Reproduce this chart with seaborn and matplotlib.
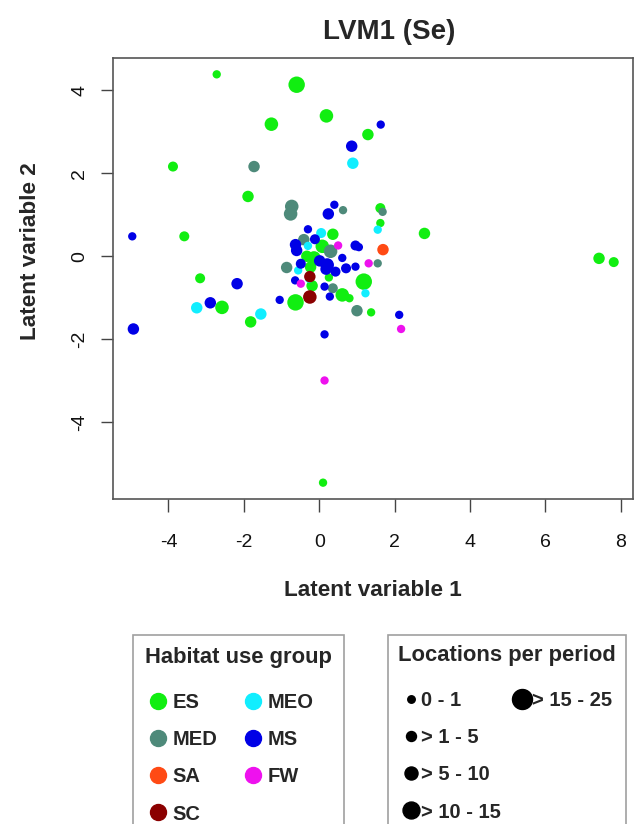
import numpy as np
import pandas as pd
import matplotlib
matplotlib.use("Agg")
import matplotlib.pyplot as plt
from matplotlib.lines import Line2D
import seaborn as sns

# =====================================================
# DATA
# =====================================================

lv1 = [
    # ES
    -2.72, -0.60, 0.19, -1.27, 1.29, -3.88, -1.89, 1.62, 1.62, 0.36,
    2.79, -3.58, 0.08, -0.14, -0.33, -0.23, 7.42, 7.81, -3.16, 0.255,
    1.18, -0.19, 0.61, 0.80, -0.63, -2.58, 1.375, -1.82, 0.10,
    # MED
    -1.73, -0.73, -0.76, 0.63, 1.68, -0.41, 0.30, -0.865, 1.55, 0.36, 1.00,
    # MEO
    0.89, 1.55, 0.05, -0.30, -0.56, -0.27, 1.225, -3.25, -1.55,
    # MS
    1.63, 0.86, 0.40, 0.24, -0.30, -0.115, -0.63, -0.60, 0.96, 1.05,
    0.61, 0.01, 0.21, -0.49, 0.43, 0.71, 0.96, 0.18, -0.64, 0.14,
    0.28, -1.05, 2.12, 0.14, -4.96, -2.18, -2.89, -4.93,
    # SA
    1.69,
    # FW
    0.50, 1.31, -0.49, 2.17, 0.14,
    # SC
    -0.25, -0.25,
]

lv2 = [
    # ES
    4.38, 4.13, 3.38, 3.18, 2.93, 2.16, 1.44, 1.16, 0.80, 0.53,
    0.55, 0.48, 0.24, -0.04, 0.00, -0.26, -0.05, -0.14, -0.53, -0.51,
    -0.61, -0.71, -0.93, -1.01, -1.11, -1.23, -1.35, -1.58, -5.45,
    # MED
    2.16, 1.20, 1.02, 1.11, 1.07, 0.40, 0.12, -0.27, -0.17, -0.77, -1.31,
    # MEO
    2.24, 0.64, 0.56, 0.25, -0.34, -0.54, -0.89, -1.24, -1.39,
    # MS
    3.17, 2.65, 1.24, 1.02, 0.65, 0.41, 0.28, 0.14, 0.26, 0.22,
    -0.04, -0.11, -0.21, -0.18, -0.37, -0.29, -0.25, -0.31, -0.58, -0.73,
    -0.97, -1.05, -1.41, -1.88, 0.48, -0.66, -1.12, -1.75,
    # SA
    0.16,
    # FW
    0.26, -0.17, -0.66, -1.75, -2.99,
    # SC
    -0.49, -0.98,
]

group = (["ES"] * 29 + ["MED"] * 11 + ["MEO"] * 9 + ["MS"] * 28
         + ["SA"] * 1 + ["FW"] * 5 + ["SC"] * 2)

# locations per period class: 1 = "0 - 1" ... 5 = "> 15 - 25"
loc_class = [
    # ES
    1, 5, 4, 4, 3, 2, 3, 2, 1, 3,
    3, 2, 4, 4, 3, 3, 3, 2, 2, 1,
    5, 3, 4, 1, 5, 4, 1, 3, 1,
    # MED
    3, 4, 4, 1, 1, 3, 4, 3, 1, 2, 3,
    # MEO
    3, 1, 2, 1, 1, 1, 1, 3, 3,
    # MS
    1, 3, 1, 3, 1, 2, 3, 3, 2, 1,
    1, 3, 4, 2, 2, 2, 1, 3, 1, 1,
    1, 1, 1, 1, 1, 3, 3, 3,
    # SA
    3,
    # FW
    1, 1, 1, 1, 1,
    # SC
    3, 4,
]

groups = ["ES", "MED", "SA", "SC", "MEO", "MS", "FW"]
group_colors = ["#11EE11", "#4E8A7A", "#FF4A14", "#8B0000",
                "#11EEFF", "#0000E6", "#EE11EE"]
class_labels = ["0 - 1", "> 1 - 5", "> 5 - 10", "> 10 - 15", "> 15 - 25"]

df = pd.DataFrame({"lv1": lv1, "lv2": lv2, "group": group, "loc": loc_class})

palette = dict(zip(groups, group_colors))
point_sizes = {1: 36, 2: 52, 3: 68, 4: 95, 5: 140}
legend_ms = [5.4, 7.2, 9.4, 12.2, 14.4]

# =====================================================
# PLOT
# =====================================================

sns.set_style("ticks")
plt.rcParams["font.family"] = ["Liberation Sans", "DejaVu Sans"]
plt.rcParams["axes.unicode_minus"] = False

fig = plt.figure(figsize=(6.35, 8.24), dpi=100)
ax = fig.add_axes([113 / 635, 1 - 499 / 824, 520 / 635, 441 / 824])

sns.scatterplot(data=df, x="lv1", y="lv2", hue="group", size="loc",
                palette=palette, sizes=point_sizes, edgecolor="none",
                linewidth=0, alpha=1, legend=False, ax=ax)

# R style axis range (4% padding)
xr = df["lv1"].max() - df["lv1"].min()
yr = df["lv2"].max() - df["lv2"].min()
ax.set_xlim(df["lv1"].min() - 0.04 * xr, df["lv1"].max() + 0.04 * xr)
ax.set_ylim(df["lv2"].min() - 0.04 * yr, df["lv2"].max() + 0.04 * yr)

ax.set_xticks([-4, -2, 0, 2, 4, 6, 8])
ax.set_yticks([-4, -2, 0, 2, 4])
ax.tick_params(axis="both", length=9, width=1, color="#444444",
               labelsize=14, labelcolor="#111111", direction="out",
               bottom=True, left=True)
ax.tick_params(axis="x", pad=16.5)
ax.tick_params(axis="y", pad=9, labelrotation=90)
for lab in ax.get_yticklabels():
    lab.set_va("center")

for sp in ax.spines.values():
    sp.set_visible(True)
    sp.set_color("#555555")
    sp.set_linewidth(1.2)

ax.set_xlabel("Latent variable 1", fontsize=16.2, fontweight="bold", labelpad=20.5)
ax.set_ylabel("Latent variable 2", fontsize=16.2, fontweight="bold")
ax.yaxis.set_label_coords(-0.138, 0.562)

fig.text(389 / 635, 1 - 32 / 824, "LVM1 (Se)", fontsize=20,
         fontweight="bold", ha="center", va="center")

# =====================================================
# LEGENDS
# =====================================================

h1 = [Line2D([0], [0], marker="o", linestyle="none", markersize=11.5,
             markerfacecolor=c, markeredgecolor=c) for c in group_colors]
leg1 = fig.legend(h1, groups, loc="upper left",
                  bbox_to_anchor=(133 / 635, 1 - 635 / 824),
                  ncol=2, frameon=True, fancybox=False, borderaxespad=0,
                  borderpad=0.6, handlelength=1.3, handletextpad=0.05,
                  columnspacing=1.15, labelspacing=0.9, alignment="left",
                  prop={"weight": "bold", "size": 14.5},
                  title="Habitat use group",
                  title_fontproperties={"weight": "bold", "size": 15.8})
leg1.get_frame().set_edgecolor("#888888")
leg1.get_frame().set_linewidth(1.2)

h2 = [Line2D([0], [0], marker="o", linestyle="none", markersize=m,
             markerfacecolor="black", markeredgecolor="black") for m in legend_ms]
h2 += [Line2D([], [], linestyle="none")] * 3
leg2 = fig.legend(h2, class_labels + [""] * 3, loc="upper left",
                  bbox_to_anchor=(388 / 635, 1 - 635 / 824),
                  ncol=2, frameon=True, fancybox=False, borderaxespad=0,
                  borderpad=0.5, handlelength=1.3, handletextpad=-0.15,
                  columnspacing=0.4, labelspacing=0.9, alignment="left",
                  prop={"weight": "bold", "size": 14.5},
                  title="Locations per period",
                  title_fontproperties={"weight": "bold", "size": 15.8})
leg2.get_frame().set_edgecolor("#888888")
leg2.get_frame().set_linewidth(1.2)

# a bit more room between legend titles and the first row, as in the original
for leg in (leg1, leg2):
    leg._legend_box.sep += 5
    leg._legend_title_box._text.set_horizontalalignment("left")

fig.savefig("out.png", dpi=100)
